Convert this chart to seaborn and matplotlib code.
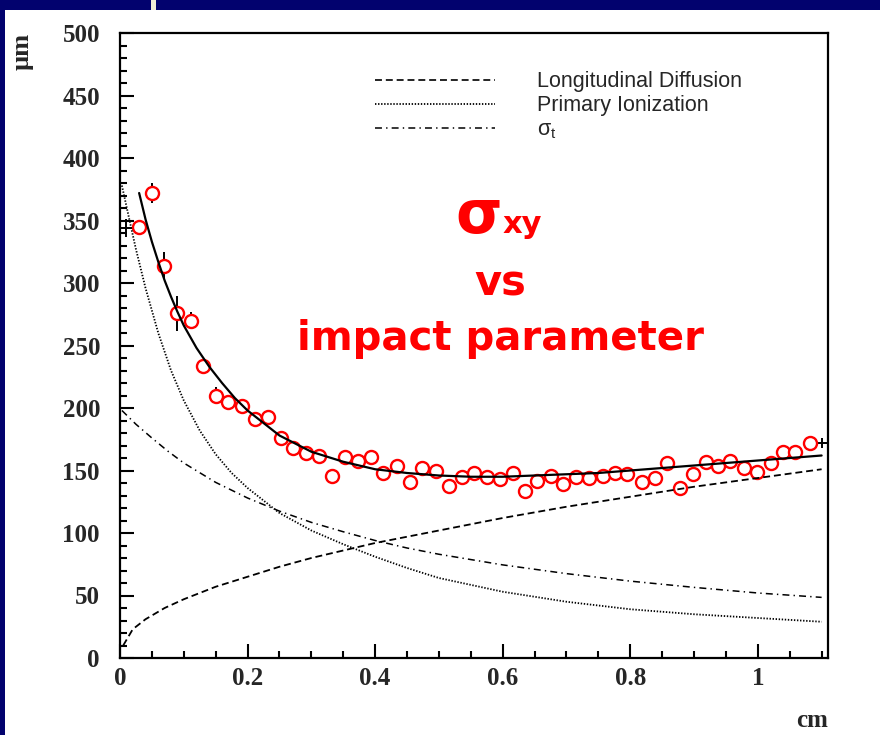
import matplotlib
matplotlib.use("Agg")
import matplotlib.pyplot as plt
import seaborn as sns
import pandas as pd
from matplotlib.lines import Line2D
from matplotlib.patches import Rectangle
from matplotlib.ticker import MultipleLocator

# ---------------- data ----------------
x_pts = [0.030, 0.050, 0.069, 0.090, 0.111, 0.130, 0.150, 0.170, 0.191, 0.212,
         0.232, 0.252, 0.272, 0.291, 0.312, 0.333, 0.353, 0.373, 0.393, 0.413,
         0.434, 0.455, 0.474, 0.495, 0.516, 0.536, 0.555, 0.576, 0.596, 0.616,
         0.635, 0.654, 0.676, 0.695, 0.715, 0.736, 0.757, 0.776, 0.795, 0.818,
         0.839, 0.858, 0.878, 0.898, 0.918, 0.938, 0.957, 0.978, 0.999, 1.020,
         1.040, 1.059, 1.081]
y_pts = [345, 372, 314, 276, 270, 234, 210, 205, 202, 191,
         193, 176, 168, 164, 162, 146, 161, 158, 161, 148,
         154, 141, 152, 150, 138, 145, 148, 145, 143, 148,
         134, 142, 146, 139, 145, 144, 146, 148, 147, 141,
         144, 156, 136, 147, 157, 154, 158, 152, 149, 156,
         165, 165, 172]
yerr_pts = [4, 8, 11, 14, 7, 5, 7, 5, 5, 5,
            5, 6, 5, 5, 5, 4, 4, 4, 4, 4,
            4, 4, 4, 4, 4, 4, 4, 4, 4, 4,
            4, 4, 4, 4, 4, 4, 4, 4, 4, 4,
            4, 4, 4, 4, 4, 4, 4, 4, 4, 4,
            4, 4, 4]
x_end = [0.009, 1.100]
y_end = [344, 172]
yerr_end = [7, 4]
bin_half = 0.01

x_fit = [0.03, 0.04, 0.05, 0.06, 0.07, 0.08, 0.09, 0.10, 0.12, 0.14, 0.16, 0.18,
         0.20, 0.25, 0.30, 0.35, 0.40, 0.45, 0.50, 0.55, 0.60, 0.65, 0.70, 0.75,
         0.80, 0.85, 0.90, 0.95, 1.00, 1.05, 1.10]
y_fit = [372, 351, 333, 317, 302, 289, 277, 266, 248, 233, 220, 208,
         198, 178, 165, 157, 151, 148, 146, 145, 145, 146, 147, 148,
         150, 152, 154, 156, 158, 160, 162]

x_ld = [0.005, 0.02, 0.04, 0.07, 0.10, 0.15, 0.20, 0.25, 0.30, 0.35, 0.40, 0.45,
        0.50, 0.60, 0.70, 0.80, 0.90, 1.00, 1.10]
y_ld = [10, 23, 31, 40, 47, 57, 65, 73, 80, 86, 92, 97,
        102, 112, 121, 129, 137, 144, 151]

x_pi = [0.003, 0.015, 0.025, 0.04, 0.06, 0.08, 0.10, 0.125, 0.15, 0.175, 0.20,
        0.25, 0.30, 0.35, 0.40, 0.45, 0.50, 0.60, 0.70, 0.80, 0.90, 1.00, 1.10]
y_pi = [378, 350, 327, 296, 260, 230, 206, 182, 163, 148, 136,
        116, 102, 91, 81, 72, 64, 53, 45, 39, 35, 32, 29]

x_st = [0.003, 0.025, 0.05, 0.075, 0.10, 0.15, 0.20, 0.25, 0.30, 0.35, 0.40,
        0.45, 0.50, 0.60, 0.70, 0.80, 0.90, 1.00, 1.10]
y_st = [198, 187, 176, 165.5, 156, 140.5, 128, 117.5, 108.5, 101, 94,
        88, 83, 74.5, 67.5, 61.5, 56.5, 52, 48.5]

legend_labels = ["Longitudinal Diffusion", "Primary Ionization",
                 r"$\mathregular{\sigma_t}$"]
x_ticks = [0, 0.2, 0.4, 0.6, 0.8, 1.0]
x_ticklabels = ["0", "0.2", "0.4", "0.6", "0.8", "1"]
y_ticks = [0, 50, 100, 150, 200, 250, 300, 350, 400, 450, 500]

# ---------------- style ----------------
sns.set_style("ticks")
plt.rcParams['font.family'] = ['Liberation Serif', 'DejaVu Serif']
plt.rcParams['lines.scale_dashes'] = False

navy = '#02026E'
ls_dash = (0, (5.0, 2.8))
ls_dot = (0, (1.0, 1.2))
ls_dashdot = (0, (5.0, 3.0, 1.0, 3.0))

fig = plt.figure(figsize=(8.8, 7.35), dpi=100)
fig.patch.set_facecolor('white')

# slide decorations
fig.add_artist(Rectangle((0, 1 - 10 / 735), 1, 10 / 735, transform=fig.transFigure,
                         facecolor=navy, edgecolor='none', zorder=0))
fig.add_artist(Rectangle((0, 0), 5 / 880, 1, transform=fig.transFigure,
                         facecolor=navy, edgecolor='none', zorder=0))
fig.add_artist(Rectangle((151 / 880, 1 - 10 / 735), 5 / 880, 10 / 735,
                         transform=fig.transFigure, facecolor='#F1EED8',
                         edgecolor='none', zorder=1))

ax = fig.add_axes([120 / 880, 77 / 735, 708 / 880, 625 / 735])
ax.set_facecolor('white')

# error bars
ax.errorbar(x_pts, y_pts, yerr=yerr_pts, xerr=bin_half, fmt='none',
            ecolor='black', elinewidth=1.4, capsize=0, zorder=2)
ax.errorbar(x_end, y_end, yerr=yerr_end, xerr=bin_half, fmt='none',
            ecolor='black', elinewidth=1.4, capsize=0, zorder=2)

# data points
pts = pd.DataFrame({"x": x_pts, "y": y_pts})
sns.scatterplot(data=pts, x="x", y="y", ax=ax, marker='o', s=88,
                facecolor='white', edgecolor='red', linewidth=1.7,
                zorder=3, legend=False)

# curves
sns.lineplot(x=x_ld, y=y_ld, ax=ax, color='black', linewidth=1.3,
             linestyle=ls_dash, estimator=None, sort=False, zorder=4)
sns.lineplot(x=x_pi, y=y_pi, ax=ax, color='black', linewidth=1.3,
             linestyle=ls_dot, estimator=None, sort=False, zorder=4)
sns.lineplot(x=x_st, y=y_st, ax=ax, color='black', linewidth=1.1,
             linestyle=ls_dashdot, estimator=None, sort=False, zorder=4)
sns.lineplot(x=x_fit, y=y_fit, ax=ax, color='black', linewidth=1.6,
             estimator=None, sort=False, zorder=5)

# legend
handles = [Line2D([], [], color='black', lw=1.2, linestyle=ls_dash),
           Line2D([], [], color='black', lw=1.3, linestyle=ls_dot),
           Line2D([], [], color='black', lw=1.1, linestyle=ls_dashdot)]
ax.legend(handles=handles, labels=legend_labels, loc='upper left',
          bbox_to_anchor=(0.36, 0.939), frameon=False,
          prop={'family': 'Liberation Sans', 'size': 15.5, 'weight': 'normal'},
          handlelength=5.6, handletextpad=1.95, labelspacing=0.15,
          borderpad=0, borderaxespad=0)

# axes
ax.set_xlim(0, 1.11)
ax.set_ylim(0, 500)
ax.set_xticks(x_ticks)
ax.set_xticklabels(x_ticklabels, fontsize=18, fontweight='bold')
ax.set_yticks(y_ticks)
ax.set_yticklabels([str(v) for v in y_ticks], fontsize=18, fontweight='bold')
ax.xaxis.set_minor_locator(MultipleLocator(0.05))
ax.yaxis.set_minor_locator(MultipleLocator(10))
ax.tick_params(which='both', direction='in', top=False, right=False,
               width=1.5, color='black')
ax.tick_params(which='major', length=10)
ax.tick_params(which='minor', length=5)
ax.tick_params(axis='y', which='major', pad=14.4)
ax.tick_params(axis='x', which='major', pad=6.5)
for sp in ax.spines.values():
    sp.set_visible(True)
    sp.set_linewidth(1.6)
    sp.set_color('black')

ax.set_xlabel('cm', fontsize=18, fontweight='bold')
ax.xaxis.set_label_coords(1.0, -0.082)
ax.xaxis.label.set_horizontalalignment('right')
ax.set_ylabel('µm', fontsize=19, fontweight='bold')
ax.yaxis.set_label_coords(-0.1215, 0.970)

# red annotation
red = '#FF0000'
ax.text(0.5987, 340, 'σ', ha='right', va='baseline', color=red,
        fontsize=43, fontweight='bold', family=['DejaVu Sans'])
ax.text(0.6003, 340, 'xy', ha='left', va='baseline', color=red,
        fontsize=22, fontweight='bold', family=['DejaVu Sans'])
ax.text(0.597, 290.4, 'vs', ha='center', va='baseline', color=red,
        fontsize=30, fontweight='bold', family=['DejaVu Sans'])
ax.text(0.597, 246.4, 'impact parameter', ha='center', va='baseline', color=red,
        fontsize=29, fontweight='bold', family=['DejaVu Sans'])

fig.savefig('out.png', dpi=100)
